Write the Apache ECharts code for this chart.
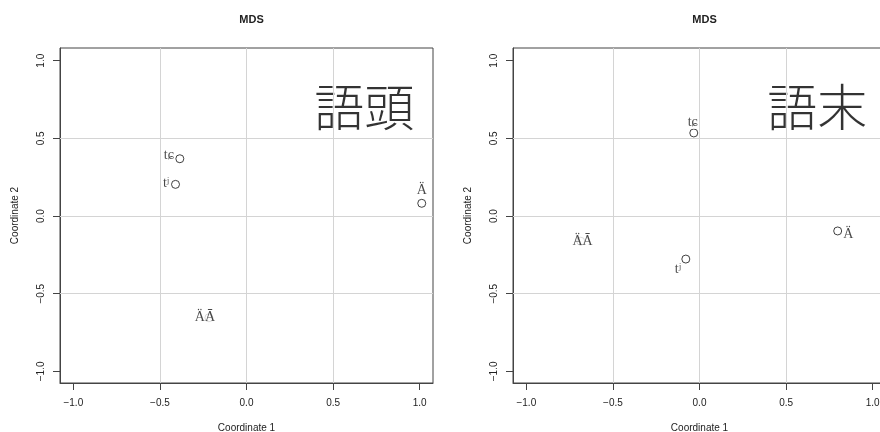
<!DOCTYPE html>
<html>
<head>
<meta charset="utf-8">
<script src="https://cdn.jsdelivr.net/npm/echarts@6/dist/echarts.min.js"></script>
<style>
  html, body { margin: 0; padding: 0; background: #fff; }
  #chart { width: 880px; height: 432px; }
</style>
</head>
<body>
<div id="chart"></div>
<script>
// Sound labels shared by both MDS panels
const terms = ['tɕ', 'tʲ', 'Ä', 'ÄĀ'];

// Word-initial (語頭) configuration
const onsetX = [-0.385, -0.41, 1.012, -0.217];
const onsetY = [0.369, 0.204, 0.082, -0.655];
const onsetLabelX = [-0.448, -0.465, 1.012, -0.24];
const onsetLabelY = [0.393, 0.213, 0.168, -0.651];

// Word-final (語末) configuration
const codaX = [-0.033, -0.079, 0.798, -0.686];
const codaY = [0.535, -0.277, -0.096, -0.162];
const codaLabelX = [-0.039, -0.125, 0.860, -0.675];
const codaLabelY = [0.606, -0.341, -0.116, -0.161];

const panelTags = ['語頭', '語末'];
const tagPos = [0.68, 0.70];
const tickValues = [-1.0, -0.5, 0.0, 0.5, 1.0];
const gridValues = [-0.5, 0.0, 0.5];

const SANS = 'Liberation Sans, Arial, sans-serif';
const SERIF = 'Liberation Serif, DejaVu Serif, serif';
const fmt = v => v.toFixed(1).replace('-', '\u2212');

const panels = [
  { left: 60, xs: onsetX, ys: onsetY, lx: onsetLabelX, ly: onsetLabelY, tag: panelTags[0] },
  { left: 513, xs: codaX, ys: codaY, lx: codaLabelX, ly: codaLabelY, tag: panelTags[1] }
];

const grids = [], xAxes = [], yAxes = [], series = [], titles = [];

panels.forEach((p, i) => {
  grids.push({
    left: p.left, top: 48, width: 373, height: 335,
    outerBoundsMode: 'none', containLabel: false,
    show: true, borderColor: '#444', borderWidth: 1, backgroundColor: 'transparent'
  });
  titles.push({
    text: 'MDS', left: p.left + 186.5, top: 9, textAlign: 'center',
    textStyle: { fontFamily: SANS, fontSize: 11, fontWeight: 'bold', color: '#222' }
  });
  xAxes.push({
    gridIndex: i, type: 'value', min: -1.077, max: 1.077,
    name: 'Coordinate 1', nameLocation: 'middle', nameGap: 40,
    nameTextStyle: { fontFamily: SANS, fontSize: 10, color: '#222' },
    axisLine: { show: true, onZero: false, lineStyle: { color: '#444', width: 1 } },
    axisTick: { show: true, length: 7, customValues: tickValues, lineStyle: { color: '#444' } },
    axisLabel: { customValues: tickValues, formatter: fmt, margin: 15,
      fontFamily: SANS, fontSize: 10, color: '#222' },
    splitLine: { show: false }
  });
  yAxes.push({
    gridIndex: i, type: 'value', min: -1.075, max: 1.082,
    name: 'Coordinate 2', nameLocation: 'middle', nameGap: 40, nameRotate: 90,
    nameTextStyle: { fontFamily: SANS, fontSize: 10, color: '#222' },
    axisLine: { show: true, onZero: false, lineStyle: { color: '#444', width: 1 } },
    axisTick: { show: true, length: 7, customValues: tickValues, lineStyle: { color: '#444' } },
    axisLabel: { customValues: tickValues, formatter: fmt, rotate: 90, margin: 14,
      fontFamily: SANS, fontSize: 10, color: '#222', align: 'center', verticalAlign: 'bottom' },
    splitLine: { show: false }
  });
  // points, with the light reference grid as mark lines
  series.push({
    type: 'scatter', xAxisIndex: i, yAxisIndex: i,
    symbol: 'circle', symbolSize: 8,
    itemStyle: { color: 'transparent', borderColor: '#111', borderWidth: 1 },
    data: p.xs.map((x, k) => [x, p.ys[k]]),
    markLine: {
      silent: true, symbol: 'none', label: { show: false },
      lineStyle: { color: '#d4d4d4', type: 'solid', width: 1 },
      data: gridValues.map(v => ({ xAxis: v })).concat(gridValues.map(v => ({ yAxis: v })))
    },
    z: 3
  });
  // text labels for each sound, on a white backing
  series.push({
    type: 'scatter', xAxisIndex: i, yAxisIndex: i,
    symbolSize: 0,
    data: p.lx.map((x, k) => ({ value: [x, p.ly[k]], name: terms[k] })),
    label: {
      show: true, position: 'inside', formatter: d => d.name,
      fontFamily: SERIF, fontSize: 14, color: '#1a1a1a',
      backgroundColor: '#fff', padding: [0, 1]
    },
    z: 4
  });
  // large panel tag
  series.push({
    type: 'scatter', xAxisIndex: i, yAxisIndex: i,
    symbolSize: 0,
    data: [{ value: tagPos, name: p.tag }],
    label: {
      show: true, position: 'inside', formatter: d => d.name,
      fontFamily: 'Noto Sans CJK JP, sans-serif', fontSize: 50, fontWeight: 300, color: '#000'
    },
    z: 4
  });
});

const chart = echarts.init(document.getElementById('chart'), null, { renderer: 'canvas' });
chart.setOption({
  animation: false,
  backgroundColor: '#fff',
  title: titles,
  grid: grids,
  xAxis: xAxes,
  yAxis: yAxes,
  series: series
});
</script>
</body>
</html>
